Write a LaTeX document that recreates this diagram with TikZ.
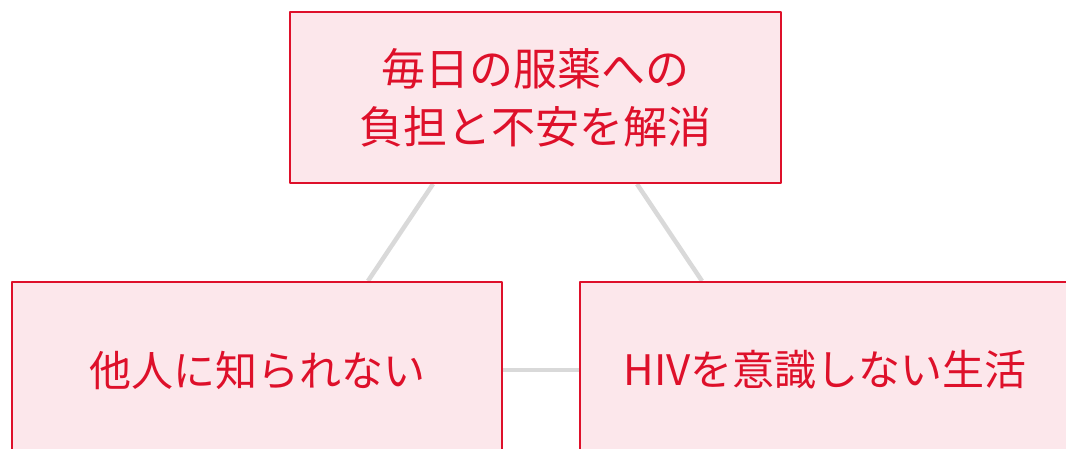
\documentclass[tikz,border=0pt]{standalone}
\usepackage{fontspec}
\setmainfont{Noto Sans CJK JP}
\usepackage{tikz}
\usetikzlibrary{positioning,backgrounds}
\definecolor{boxred}{RGB}{222,16,42}
\definecolor{boxpink}{RGB}{252,231,235}
\definecolor{linkgray}{RGB}{217,217,217}
\tikzset{
  box/.style={draw=boxred,fill=boxpink,line width=2bp,text=boxred,align=center,
    font=\fontsize{42bp}{58bp}\selectfont,inner sep=0pt},
  link/.style={draw=linkgray,line width=4.5bp},
}

\begin{document}
\begin{tikzpicture}[line join=bevel,]
%%
\clip (0bp,0bp) rectangle (1066bp,449bp);
  \node (burden) at (535bp,351.5bp) [box,minimum width=491bp,minimum height=171bp,
    font=\fontsize{44bp}{58bp}\selectfont] {毎日の服薬への\\負担と不安を解消};
  \node (secret) at (257bp,79bp) [box,minimum width=490bp,minimum height=176bp] {他人に知られない};
  \node (life) at (825bp,79bp) [box,minimum width=490bp,minimum height=176bp] {HIVを意識しない生活};
%
\begin{scope}[on background layer]
  \draw [link] ([xshift=-102bp]burden.south) -- ([xshift=111bp]secret.north);
  \draw [link] ([xshift=102bp]burden.south) -- ([xshift=-123bp]life.north);
  \draw [link] (secret.east) -- (life.west);
\end{scope}
%
\end{tikzpicture}
\end{document}
